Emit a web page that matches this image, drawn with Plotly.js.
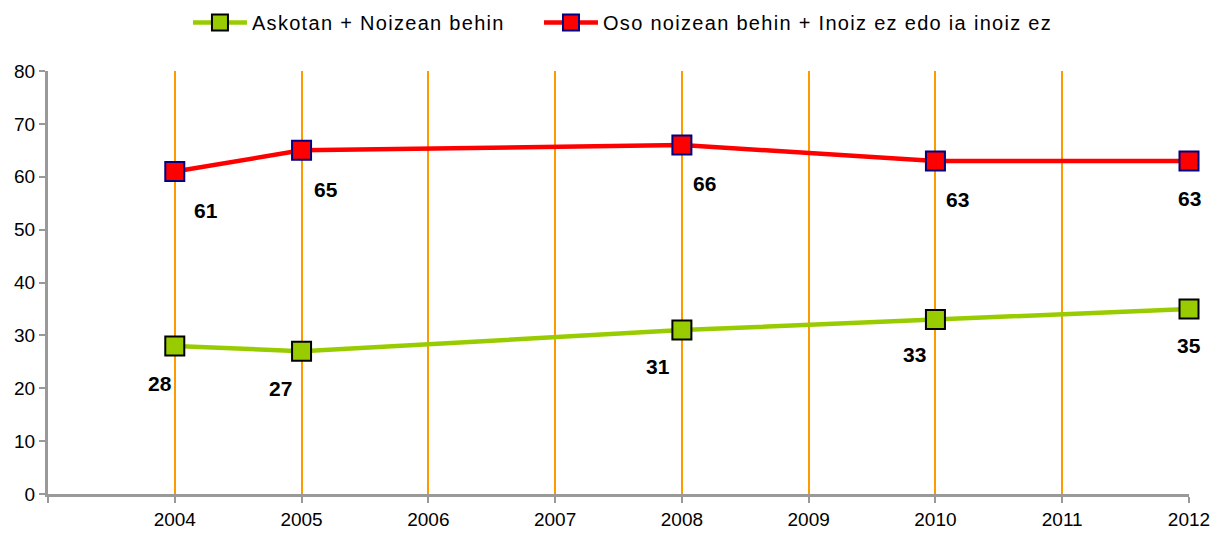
<!DOCTYPE html>
<html>
<head>
<meta charset="utf-8">
<script src="https://cdn.plot.ly/plotly-3.0.1.min.js"></script>
<style>html,body{margin:0;padding:0;background:#fff}#chart{width:1215px;height:533px}
.legendtext, .legend2text, text[class*="legend"]{letter-spacing:1.3px}</style>
</head>
<body>
<div id="chart"></div>
<script>
// Data
var years = [2004, 2005, 2008, 2010, 2012];
var greenName = "Askotan + Noizean behin";
var redName = "Oso noizean behin + Inoiz ez edo ia inoiz ez";
var greenValues = [28, 27, 31, 33, 35];
var redValues = [61, 65, 66, 63, 63];
var tickYears = [2003, 2004, 2005, 2006, 2007, 2008, 2009, 2010, 2011, 2012];
var tickLabels = ["", "2004", "2005", "2006", "2007", "2008", "2009", "2010", "2011", "2012"];

// Label offsets (style)
var greenShiftX = [-15, -21, -24, -21, 0];
var redShiftX = [31, 24, 23, 22, 0];
var greenShiftY = [-38, -37, -36, -35, -37];
var redShiftY = [-39, -39, -38, -39, -38];

var FONT = "Arial, 'Liberation Sans', sans-serif";

var traces = [
  {
    x: years, y: greenValues, name: greenName, type: "scatter", mode: "lines+markers",
    line: {color: "#99CC00", width: 4.5}, cliponaxis: false, legend: "legend",
    marker: {symbol: "square", size: 19, color: "#99CC00", line: {color: "#000000", width: 2}},
    hoverinfo: "x+y"
  },
  {
    x: years, y: redValues, name: redName, type: "scatter", mode: "lines+markers",
    line: {color: "#FF0000", width: 4.5}, cliponaxis: false, legend: "legend2",
    marker: {symbol: "square", size: 19, color: "#FF0000", line: {color: "#000080", width: 2}},
    hoverinfo: "x+y"
  }
];

var annotations = [];
years.forEach(function (yr, i) {
  annotations.push({x: yr, y: greenValues[i], text: String(greenValues[i]), showarrow: false,
    xshift: greenShiftX[i], yshift: greenShiftY[i], font: {family: FONT, size: 21, color: "#000", weight: "bold"}});
  annotations.push({x: yr, y: redValues[i], text: String(redValues[i]), showarrow: false,
    xshift: redShiftX[i], yshift: redShiftY[i], font: {family: FONT, size: 21, color: "#000", weight: "bold"}});
});

var legendBase = {
  orientation: "h", xref: "container", xanchor: "left", yref: "container", y: 0.958, yanchor: "middle",
  font: {family: FONT, size: 20, color: "#000"}, itemwidth: 54, bgcolor: "rgba(0,0,0,0)"
};

var layout = {
  width: 1215, height: 533,
  margin: {l: 48, r: 26, t: 71, b: 39},
  paper_bgcolor: "#ffffff", plot_bgcolor: "#ffffff",
  font: {family: FONT, size: 19, color: "#000"},
  showlegend: true,
  legend: Object.assign({}, legendBase, {x: 0.1547}),
  legend2: Object.assign({}, legendBase, {x: 0.4436}),
  xaxis: {
    range: [2003, 2012], tickmode: "array", tickvals: tickYears, ticktext: tickLabels,
    showgrid: true, gridcolor: "#FF9900", gridwidth: 2,
    showline: true, linecolor: "#999999", linewidth: 3,
    ticks: "outside", ticklen: 6, tickwidth: 2, tickcolor: "#999999",
    zeroline: false,
    tickfont: {family: FONT, size: 19, color: "#000"}
  },
  yaxis: {
    range: [0, 80], dtick: 10, tick0: 0,
    showgrid: false, showline: true, linecolor: "#999999", linewidth: 3,
    ticks: "outside", ticklen: 6, tickwidth: 2, tickcolor: "#999999",
    zeroline: false,
    tickfont: {family: FONT, size: 19, color: "#000"}
  },
  annotations: annotations
};

Plotly.newPlot("chart", traces, layout, {displayModeBar: false, responsive: false});
</script>
</body>
</html>
